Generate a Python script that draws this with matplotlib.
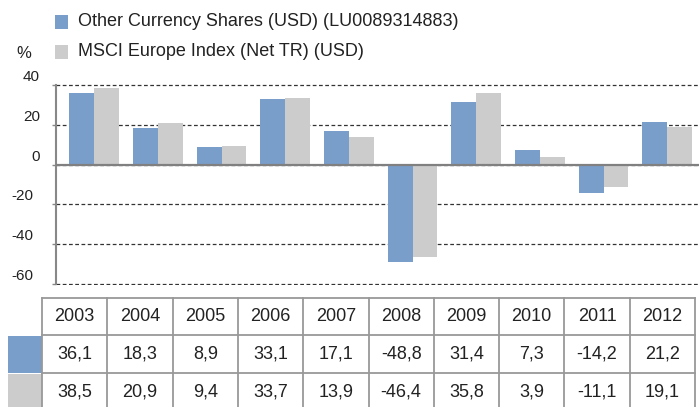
import matplotlib
matplotlib.use("Agg")
import matplotlib.pyplot as plt
from matplotlib.patches import Rectangle
from matplotlib.lines import Line2D
from matplotlib.transforms import offset_copy
import numpy as np

plt.rcParams['font.family'] = ['Liberation Sans', 'DejaVu Sans']

years = ["2003", "2004", "2005", "2006", "2007", "2008", "2009", "2010", "2011", "2012"]
fund = [36.1, 18.3, 8.9, 33.1, 17.1, -48.8, 31.4, 7.3, -14.2, 21.2]
index = [38.5, 20.9, 9.4, 33.7, 13.9, -46.4, 35.8, 3.9, -11.1, 19.1]
series_names = ["Other Currency Shares (USD) (LU0089314883)", "MSCI Europe Index (Net TR) (USD)"]
yticks = [40, 20, 0, -20, -40, -60]

BLUE = "#7A9ECA"
GRAY = "#CCCCCC"
TXT = "#222222"
W, H = 699, 407

fig = plt.figure(figsize=(W / 100, H / 100), dpi=100)

def fx(px):
    return px / W

def fy(py):
    return 1 - py / H

# Axes (ylim padded slightly so the -60 and 40 gridlines are not clipped)
ax_l, ax_r, ax_t, ax_b = 56, 699, 84, 285
ax = fig.add_axes([fx(ax_l), fy(ax_b), fx(ax_r - ax_l), (ax_b - ax_t) / H])
x = np.arange(len(years))
bw = 0.39
ax.bar(x - bw / 2, fund, bw, color=BLUE, zorder=2)
ax.bar(x + bw / 2, index, bw, color=GRAY, zorder=2)
ax.set_xlim(-0.6, 9.5)
ax.set_ylim(-60.5, 40.5)
ax.set_yticks(yticks)
ax.set_yticklabels([])
ax.set_xticks([])
ax.tick_params(axis='y', length=3, width=1, color="#888888", direction='out')
for s in ['top', 'right', 'bottom']:
    ax.spines[s].set_visible(False)
ax.spines['left'].set_color("#888888")
ax.spines['left'].set_linewidth(1.5)
ax.spines['left'].set_bounds(-60, 40)
ax.yaxis.grid(True, linestyle=(0, (3, 2)), color="#333333", linewidth=0.9, zorder=0)
ax.set_axisbelow(True)
ax.axhline(0, color="#808080", linewidth=1.6, zorder=3)

# y tick labels, drawn slightly above their gridlines
ytrans = ax.get_yaxis_transform()
for v in yticks:
    dx = -16 if v >= 0 else -23
    t = offset_copy(ytrans, fig=fig, x=dx, y=8, units='dots')
    ax.text(0, v, str(v), transform=t, ha='right', va='center', fontsize=11, color=TXT)

# "%" label
fig.text(fx(24), fy(53), "%", fontsize=12, color=TXT, ha='center', va='center')

# Legend
legend_rows = [(22, BLUE), (52, GRAY)]
for (cy, col), name in zip(legend_rows, series_names):
    fig.add_artist(Rectangle((fx(55), fy(cy + 7)), fx(13), 14 / H, transform=fig.transFigure,
                             facecolor=col, edgecolor='none'))
    fig.text(fx(78), fy(cy), name, fontsize=13, color=TXT, ha='left', va='center')

# Table
tl, tr = 42, 695
row_tops = [298, 335, 373, 411]
ncol = len(years)
cw = (tr - tl) / ncol
line_col = "#999999"
fig.add_artist(Rectangle((fx(8), fy(373)), fx(34), (373 - 336) / H, transform=fig.transFigure,
                         facecolor=BLUE, edgecolor='none'))
fig.add_artist(Rectangle((fx(8), fy(411)), fx(34), (411 - 374) / H, transform=fig.transFigure,
                         facecolor=GRAY, edgecolor='none'))
for yy in row_tops[:3]:
    fig.add_artist(Line2D([fx(tl), fx(tr)], [fy(yy), fy(yy)], transform=fig.transFigure,
                          color=line_col, linewidth=1.3))
for i in range(ncol + 1):
    xx = tl + i * cw
    fig.add_artist(Line2D([fx(xx), fx(xx)], [fy(298), fy(411)], transform=fig.transFigure,
                          color=line_col, linewidth=1.3))

def fmt(v):
    return f"{v:.1f}".replace('.', ',')

rows = [years, [fmt(v) for v in fund], [fmt(v) for v in index]]
for r, vals in enumerate(rows):
    cy = (row_tops[r] + row_tops[r + 1]) / 2
    for i, t in enumerate(vals):
        cx = tl + (i + 0.5) * cw
        fig.text(fx(cx), fy(cy), t, fontsize=13, color=TXT, ha='center', va='center')

fig.savefig("out.png", dpi=100)
